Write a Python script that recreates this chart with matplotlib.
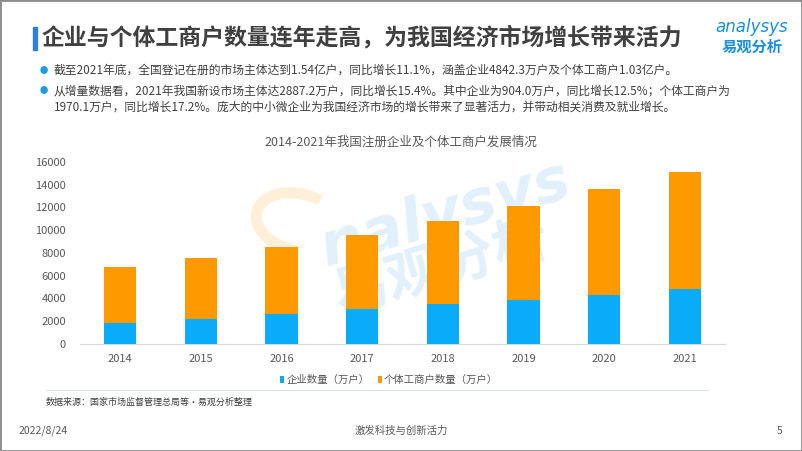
import matplotlib.pyplot as plt
from matplotlib.patches import Rectangle, Arc

plt.rcParams['font.family'] = ['Noto Sans CJK SC', 'DejaVu Sans']

years = ['2014', '2015', '2016', '2017', '2018', '2019', '2020', '2021']
enterprise = [1819, 2186, 2596, 3034, 3474, 3858, 4331, 4842]  # 万户
individual = [4984, 5408, 5930, 6579, 7329, 8261, 9287, 10300]  # 万户
yticks = [0, 2000, 4000, 6000, 8000, 10000, 12000, 14000, 16000]

blue = '#0aacf9'
orange = '#ff9900'
gray = '#595959'

fig = plt.figure(figsize=(8.02, 4.51), dpi=100)
W, H = 802, 451

def px(x, y):
    return x / W, 1 - y / H

# frame
fig.patches.append(Rectangle((0, 0), 1, 1, transform=fig.transFigure, fill=False,
                             edgecolor='#8c8c8c', linewidth=2))

# title with blue marker
fig.patches.append(Rectangle(px(33, 50), 4 / W, 23 / H, transform=fig.transFigure,
                             color='#2f7fd8'))
fig.text(*px(42, 38), '企业与个体工商户数量连年走高，为我国经济市场增长带来活力',
         fontsize=16.5, fontweight='bold', color='#404040', va='center', ha='left')

# logo
fig.text(*px(752, 27), 'analysys', fontsize=12, style='italic', color='#1a8fe0',
         ha='center', va='center', family='DejaVu Sans')
fig.text(*px(752, 47), '易观分析', fontsize=11, fontweight='bold', color='#1a8fe0',
         ha='center', va='center')

# bullets
fig.text(*px(44, 70), '●', fontsize=6, color='#1a9be8', ha='center', va='center')
fig.text(*px(54, 70), '截至2021年底，全国登记在册的市场主体达到1.54亿户，同比增长11.1%，涵盖企业4842.3万户及个体工商户1.03亿户。',
         fontsize=8.5, color='#404040', ha='left', va='center')
fig.text(*px(44, 91), '●', fontsize=6, color='#1a9be8', ha='center', va='center')
fig.text(*px(54, 91), '从增量数据看，2021年我国新设市场主体达2887.2万户，同比增长15.4%。其中企业为904.0万户，同比增长12.5%；个体工商户为',
         fontsize=8.5, color='#404040', ha='left', va='center')
fig.text(*px(54, 107), '1970.1万户，同比增长17.2%。庞大的中小微企业为我国经济市场的增长带来了显著活力，并带动相关消费及就业增长。',
         fontsize=8.5, color='#404040', ha='left', va='center')

# chart
ax = fig.add_axes([80 / W, 107 / H, 645 / W, 182 / H])
x = range(len(years))
ax.bar(x, enterprise, width=0.4, color=blue, label='企业数量（万户）', zorder=3)
ax.bar(x, individual, width=0.4, bottom=enterprise, color=orange,
       label='个体工商户数量（万户）', zorder=3)
ax.set_xlim(-0.5, len(years) - 0.5)
ax.set_ylim(0, 16000)
ax.set_xticks(list(x))
ax.set_xticklabels(years)
ax.set_yticks(yticks)
ax.tick_params(axis='both', length=0, labelsize=8, labelcolor=gray)
ax.tick_params(axis='y', pad=10)
ax.tick_params(axis='x', pad=7)
for s in ['top', 'right', 'left']:
    ax.spines[s].set_visible(False)
ax.spines['bottom'].set_color('#d9d9d9')
ax.patch.set_alpha(0)

fig.text(*px(401, 142), '2014-2021年我国注册企业及个体工商户发展情况', fontsize=9,
         color=gray, ha='center', va='center')

leg = fig.legend(loc='center', bbox_to_anchor=px(389, 380), ncol=2, frameon=False,
                 fontsize=7.5, handlelength=0.4, handleheight=0.7, handletextpad=0.2,
                 columnspacing=0.8)
for t in leg.get_texts():
    t.set_color(gray)

# watermark (behind the bars)
fig.text(*px(445, 215), 'nalysys', fontsize=44, color='#1a8fe0', alpha=0.13,
         rotation=16, ha='center', va='center', fontweight='bold', style='italic',
         family='DejaVu Sans', zorder=-1)
fig.text(*px(442, 268), '易观分析', fontsize=40, color='#1a8fe0', alpha=0.13,
         rotation=16, ha='center', va='center', fontweight='bold', zorder=-1)
fig.patches.append(Arc(px(298, 222), 80 / W, 60 / H, angle=20, theta1=40, theta2=250,
                       transform=fig.transFigure, color=orange, alpha=0.15, linewidth=8,
                       zorder=-1))

# source line and footer
fig.lines.append(plt.Line2D([46 / W, 708 / W], [1 - 390 / H, 1 - 390 / H],
                            transform=fig.transFigure, color='#d9e2ec', linewidth=0.8))
fig.text(*px(46, 402), '数据来源：国家市场监督管理总局等•易观分析整理', fontsize=6.5,
         color='#404040', ha='left', va='center')
fig.text(*px(19, 431), '2022/8/24', fontsize=7.5, color=gray, ha='left', va='center')
fig.text(*px(401, 431), '激发科技与创新活力', fontsize=7.5, color=gray, ha='center', va='center')
fig.text(*px(780, 431), '5', fontsize=7.5, color=gray, ha='center', va='center')

fig.savefig('out.png', dpi=100)
